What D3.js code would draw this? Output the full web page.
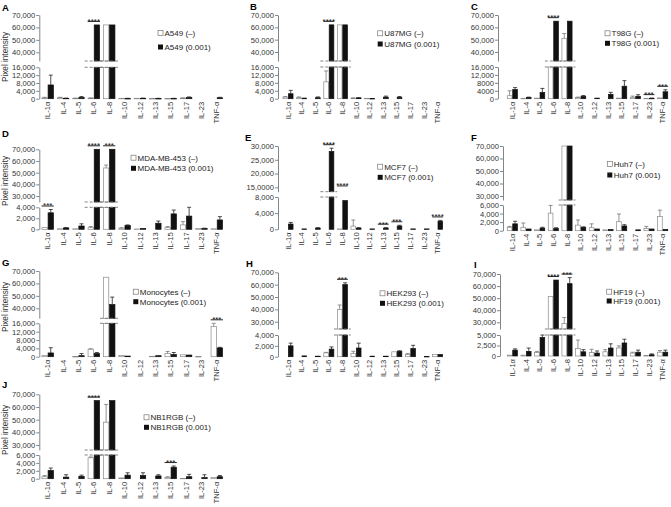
<!DOCTYPE html>
<html><head><meta charset="utf-8">
<script src="https://cdn.jsdelivr.net/npm/d3@7"></script>
<style>body{margin:0;background:#fff} svg{display:block} text{font-family:Arial,"Liberation Sans",sans-serif;fill:#222}</style>
</head><body><svg id="c" width="671" height="507"></svg>
<script>
const categories = ["IL-1α","IL-4","IL-5","IL-6","IL-8","IL-10","IL-12","IL-13","IL-15","IL-17","IL-23","TNF-α"];

// A549
const a549Ctrl    = [400, 500, 200, 300, 62000, 200, 200, 100, 100, 300, 0, 0];
const a549CtrlErr = [300, 200, 100, 100, 0, 0, 0, 0, 0, 100, 0, 0];
const a549Trt     = [7000, 200, 600, 62000, 62000, 100, 200, 100, 100, 600, 0, 500];
const a549TrtErr  = [5000, 100, 500, 0, 0, 100, 100, 100, 100, 300, 0, 200];
const a549Sig = [[3, "****"]];
// U87MG
const u87Ctrl    = [800, 500, 0, 8500, 62000, 300, 200, 0, 0, 0, 0, 0];
const u87CtrlErr = [300, 400, 0, 5500, 0, 100, 0, 0, 0, 0, 0, 0];
const u87Trt     = [2500, 200, 500, 62000, 62000, 400, 100, 800, 700, 0, 0, 0];
const u87TrtErr  = [1700, 100, 400, 0, 0, 100, 0, 500, 400, 0, 0, 0];
const u87Sig = [[3, "****"]];
// T98G
const t98Ctrl    = [1500, 200, 300, 16000, 51000, 600, 0, 0, 300, 700, 200, 400];
const t98CtrlErr = [2500, 0, 0, 0, 4000, 200, 0, 0, 0, 600, 0, 0];
const t98Trt     = [4600, 600, 3200, 65000, 65000, 1200, 300, 2200, 6300, 1200, 200, 3500];
const t98TrtErr  = [1000, 200, 2000, 0, 0, 400, 0, 1000, 2800, 800, 100, 1000];
const t98Sig = [[3, "****"], [10, "***"], [11, "***"]];
// MDA-MB-453
const mdaCtrl    = [300, 100, 100, 300, 54000, 200, 50, 0, 300, 800, 150, 100];
const mdaCtrlErr = [0, 0, 0, 200, 2500, 100, 0, 0, 200, 600, 0, 0];
const mdaTrt     = [3000, 250, 600, 70000, 70000, 700, 150, 1100, 2800, 2400, 150, 1700];
const mdaTrtErr  = [600, 50, 400, 0, 0, 100, 0, 400, 700, 1600, 50, 600];
const mdaSig = [[0, "***"], [3, "****"], [4, "***"]];
// MCF7
const mcfCtrl    = [0, 0, 0, 0, 100, 800, 0, 0, 0, 0, 0, 0];
const mcfCtrlErr = [0, 0, 0, 0, 0, 1500, 0, 0, 0, 0, 0, 0];
const mcfTrt     = [1300, 100, 300, 28000, 7100, 300, 100, 300, 800, 100, 100, 2000];
const mcfTrtErr  = [400, 0, 100, 1200, 0, 100, 0, 100, 200, 0, 0, 200];
const mcfSig = [[3, "****"], [4, "****", 15500], [7, "***"], [8, "***"], [11, "****"]];
// Huh7
const huhCtrl    = [800, 800, 200, 4100, 70000, 1300, 700, 200, 2100, 0, 500, 3300];
const huhCtrlErr = [200, 1000, 0, 1800, 0, 1200, 900, 0, 1800, 0, 500, 1500];
const huhTrt     = [1600, 400, 600, 500, 70000, 800, 400, 300, 1100, 200, 400, 300];
const huhTrtErr  = [600, 0, 200, 200, 0, 100, 0, 0, 300, 0, 0, 0];
const huhSig = [];
// Monocytes
const monoCtrl    = [500, 0, 100, 3600, 65000, 600, 0, 200, 1500, 900, 100, 14500];
const monoCtrlErr = [0, 0, 0, 200, 0, 0, 0, 0, 1000, 0, 0, 1500];
const monoTrt     = [1800, 0, 500, 1500, 43000, 300, 0, 500, 1000, 800, 0, 4200];
const monoTrtErr  = [2500, 0, 1000, 500, 6000, 0, 0, 0, 1000, 0, 0, 300];
const monoSig = [[11, "***"]];
// HEK293
const hekCtrl    = [0, 0, 0, 700, 40000, 600, 0, 0, 900, 400, 0, 400];
const hekCtrlErr = [0, 0, 0, 100, 3500, 400, 0, 0, 0, 200, 0, 0];
const hekTrt     = [2000, 150, 100, 1400, 60000, 1600, 100, 100, 1000, 1500, 50, 400];
const hekTrtErr  = [500, 0, 0, 400, 1500, 900, 0, 0, 100, 600, 0, 0];
const hekSig = [[4, "***"]];
// HF19
const hfCtrl    = [200, 200, 800, 51500, 29000, 1800, 800, 1000, 1900, 700, 100, 900];
const hfCtrlErr = [0, 0, 300, 0, 5000, 2000, 800, 500, 500, 200, 0, 400];
const hfTrt     = [1400, 1100, 4400, 65000, 62000, 1000, 700, 1900, 3100, 900, 300, 900];
const hfTrtErr  = [300, 800, 700, 0, 5000, 500, 500, 1000, 900, 500, 200, 500];
const hfSig = [[3, "****"], [4, "***"]];
// NB1RGB
const nbCtrl    = [500, 0, 0, 5300, 48000, 200, 0, 0, 300, 100, 0, 300];
const nbCtrlErr = [300, 0, 0, 200, 14000, 0, 0, 0, 200, 0, 0, 0];
const nbTrt     = [2100, 400, 600, 65000, 65000, 900, 800, 700, 2900, 500, 300, 500];
const nbTrtErr  = [600, 600, 300, 0, 0, 600, 700, 300, 300, 600, 700, 300];
const nbSig = [[3, "****"], [8, "***"]];

// tick values / labels
const up40 = [40000, 50000, 60000, 70000];
const up40Lab = ["40,000", "50,000", "60,000", "70,000"];
const up30 = [30000, 40000, 50000, 60000, 70000];
const up30Lab = ["30,000", "40,000", "50,000", "60,000", "70,000"];
const up15 = [15000, 20000, 25000, 30000];
const up15Lab = ["15,0000", "20,000", "25,000", "30,000"];
const lo16 = [0, 4000, 8000, 12000, 16000];
const lo16Lab = ["0", "4,000", "8,000", "12,000", "16,000"];
const lo16LabC = ["0", "4000", "8000", "12,000", "16,000"];
const lo4 = [0, 2000, 4000];
const lo4Lab = ["0", "2,000", "4,000"];
const lo8 = [0, 4000, 8000];
const lo8Lab = ["0", "4,000", "8,000"];
const lo6 = [0, 2000, 4000, 6000];
const lo6Lab = ["0", "2,000", "4,000", "6,000"];
const lo5 = [0, 2500, 5000];
const lo5Lab = ["0", "2,500", "5,000"];

const panels = [
 {id:"A", name:"A549", c:a549Ctrl, ce:a549CtrlErr, t:a549Trt, te:a549TrtErr, sig:a549Sig, ut:up40, ul:up40Lab, lt:lo16, ll:lo16Lab,
  L:{title:[2,11], ax:39.3, xr:[40,224.5], u:[40000,52.3,70000,15,61], l:[16000,98.7,67.3], leg:[158,33,47], ylab:57}},
 {id:"B", name:"U87MG", c:u87Ctrl, ce:u87CtrlErr, t:u87Trt, te:u87TrtErr, sig:u87Sig, ut:up40, ul:up40Lab, lt:lo16, ll:lo16Lab,
  L:{title:[250,10], ax:278, xr:[281.2,444.4], u:[40000,52,70000,15,61], l:[16000,98.7,67], leg:[377.7,33.3,44]}},
 {id:"C", name:"T98G", c:t98Ctrl, ce:t98CtrlErr, t:t98Trt, te:t98TrtErr, sig:t98Sig, ut:up40, ul:up40Lab, lt:lo16, ll:lo16LabC,
  L:{title:[471,10], ax:498, xr:[505.5,669.5], u:[40000,52,70000,15,61], l:[16000,98.7,67], leg:[605,33.3,43.3]}},
 {id:"D", name:"MDA-MB-453", c:mdaCtrl, ce:mdaCtrlErr, t:mdaTrt, te:mdaTrtErr, sig:mdaSig, ut:up30, ul:up30Lab, lt:lo4, ll:lo4Lab,
  L:{title:[2,137], ax:39.3, xr:[40,224.5], u:[30000,196,70000,149.3,202], l:[4000,229.3,207.3], leg:[131,157.7,168.3], ylab:181}},
 {id:"E", name:"MCF7", c:mcfCtrl, ce:mcfCtrlErr, t:mcfTrt, te:mcfTrtErr, sig:mcfSig, ut:up15, ul:up15Lab, lt:lo8, ll:lo8Lab,
  L:{title:[245,141], ax:278, xr:[281.2,444.4], u:[15000,187.3,30000,146,191.7], l:[8000,229.3,197], leg:[377.7,166.7,177.3]}},
 {id:"F", name:"Huh7", c:huhCtrl, ce:huhCtrlErr, t:huhTrt, te:huhTrtErr, sig:huhSig, ut:up30, ul:up30Lab, lt:lo6, ll:lo6Lab,
  L:{title:[471,141], ax:503, xr:[505.5,669.5], u:[30000,196,70000,146,200], l:[6000,230.7,205], leg:[607.3,164,175]}},
 {id:"G", name:"Monocytes", c:monoCtrl, ce:monoCtrlErr, t:monoTrt, te:monoTrtErr, sig:monoSig, ut:up40, ul:up40Lab, lt:lo16, ll:lo16Lab,
  L:{title:[2,266], ax:39.3, xr:[40,224.5], u:[40000,308.3,70000,271,318.3], l:[16000,356.7,323.3], leg:[133.3,291.7,301.7], ylab:307}},
 {id:"H", name:"HEK293", c:hekCtrl, ce:hekCtrlErr, t:hekTrt, te:hekTrtErr, sig:hekSig, ut:up30, ul:up30Lab, lt:lo4, ll:lo4Lab,
  L:{title:[246,267], ax:278, xr:[281.2,444.4], u:[30000,321.7,70000,272.3,329], l:[4000,356.7,335], leg:[380,293.3,303.3]}},
 {id:"I", name:"HF19", c:hfCtrl, ce:hfCtrlErr, t:hfTrt, te:hfTrtErr, sig:hfSig, ut:up30, ul:up30Lab, lt:lo5, ll:lo5Lab,
  L:{title:[474,268], ax:500, xr:[505.5,669.5], u:[30000,322.3,70000,274,329], l:[5000,356,335], leg:[606.7,291.7,301]}},
 {id:"J", name:"NB1RGB", c:nbCtrl, ce:nbCtrlErr, t:nbTrt, te:nbTrtErr, sig:nbSig, ut:up30, ul:up30Lab, lt:lo6, ll:lo6Lab,
  L:{title:[2,388], ax:39.3, xr:[40,224.5], u:[30000,445,70000,394.3,450], l:[6000,478.7,455], leg:[144,417.3,427.3], ylab:430}}
];

const svg = d3.select("#c");
const FS = 7.6;

panels.forEach(p => {
  const L = p.L;
  const g = svg.append("g");
  const [uv1, uy1, uv2, uy2, brk] = L.u;
  const uS = d3.scaleLinear().domain([uv1, uv2]).range([uy1, uy2]);
  const uBottom = uS.invert(brk);
  uS.domain([uBottom, uv2]).range([brk, uy2]);
  const [lmax, ly0, lyMax] = L.l;
  const lS = d3.scaleLinear().domain([0, lmax]).range([ly0, lyMax]);
  const x = d3.scaleBand().domain(categories).range(L.xr).paddingInner(0.2).paddingOuter(0.1);
  const bw = x.bandwidth() / 2;

  const yOf = v => v <= lmax ? lS(v) : (v >= uBottom ? uS(Math.min(v, uv2)) : lS(lmax));

  // title
  g.append("text").attr("x", L.title[0]).attr("y", L.title[1]).attr("font-size", 9.5).attr("font-weight", "bold").style("fill","#000").text(p.id);
  if (L.ylab) {
    g.append("text").attr("transform", `translate(5,${L.ylab}) rotate(-90)`).attr("text-anchor","middle").attr("dy","0.35em").attr("font-size", 8.2).style("fill","#333").text("Pixel intensity");
  }

  // axes
  const ua = d3.axisLeft(uS).tickValues(p.ut).tickFormat((d,i) => p.ul[i]).tickSizeInner(3).tickSizeOuter(0).tickPadding(1);
  const la = d3.axisLeft(lS).tickValues(p.lt).tickFormat((d,i) => p.ll[i]).tickSizeInner(3).tickSizeOuter(0).tickPadding(1);
  [ua, la].forEach(a => {
    const ag = g.append("g").attr("transform", `translate(${L.ax},0)`).call(a);
    ag.selectAll("path,line").attr("stroke", "#666").attr("stroke-width", 0.8);
    ag.selectAll("text").attr("font-size", FS).style("fill", "#333").attr("font-family", "Arial, 'Liberation Sans', sans-serif");
  });

  // bars
  const series = [
    {vals: p.c, errs: p.ce, off: 0, fill: "#fff", stroke: "#8a8a8a", ecol: "#777"},
    {vals: p.t, errs: p.te, off: bw, fill: "#111", stroke: "#111", ecol: "#222"}
  ];
  series.forEach(s => {
    categories.forEach((cat, i) => {
      const v = s.vals[i];
      if (v <= 0) return;
      const bx = x(cat) + s.off;
      const parts = [];
      if (v <= lmax) parts.push([lS(0), lS(v)]);
      else {
        parts.push([lS(0), lS(lmax)]);
        if (v > uBottom) parts.push([brk, uS(Math.min(v, uv2))]);
      }
      parts.forEach(([yb, yt]) => {
        g.append("rect").attr("x", bx + 0.4).attr("y", yt).attr("width", bw - 0.8).attr("height", Math.max(0.5, yb - yt))
          .attr("fill", s.fill).attr("stroke", s.stroke).attr("stroke-width", 0.7);
      });
      const e = s.errs[i];
      if (e > 0) {
        const cx = bx + bw / 2;
        const y1 = yOf(v), y2 = yOf(v + e);
        g.append("line").attr("x1", cx).attr("x2", cx).attr("y1", y1).attr("y2", y2).attr("stroke", s.ecol).attr("stroke-width", 0.8);
        g.append("line").attr("x1", cx - 2).attr("x2", cx + 2).attr("y1", y2).attr("y2", y2).attr("stroke", s.ecol).attr("stroke-width", 0.8);
      }
    });
  });

  // break dashes
  categories.forEach((cat, i) => {
    if (Math.max(p.c[i], p.t[i]) > lmax && Math.max(p.c[i], p.t[i]) > uBottom) {
      const x0 = x(cat) - 3, x1 = x(cat) + x.bandwidth() + 3;
      [brk, lS(lmax)].forEach(yy => {
        g.append("line").attr("x1", x0).attr("x2", x1).attr("y1", yy).attr("y2", yy)
          .attr("stroke", "#777").attr("stroke-width", 0.9).attr("stroke-dasharray", "3,2");
      });
    }
  });

  // x labels
  categories.forEach(cat => {
    g.append("text").attr("transform", `translate(${x(cat) + x.bandwidth()/2},${ly0 + 3}) rotate(-90)`)
      .attr("text-anchor", "end").attr("dy", "0.35em").attr("font-size", FS).style("fill","#333").text(cat);
  });

  // significance
  p.sig.forEach(sg => {
    const i = sg[0], cat = categories[i];
    let ly;
    if (sg.length > 2) ly = yOf(sg[2]);
    else {
      const top = Math.min(yOf(p.c[i] + p.ce[i]), yOf(p.t[i] + p.te[i]));
      ly = top - 3.5;
    }
    g.append("line").attr("x1", x(cat)).attr("x2", x(cat) + x.bandwidth()).attr("y1", ly).attr("y2", ly).attr("stroke", "#111").attr("stroke-width", 0.9);
    g.append("text").attr("x", x(cat) + x.bandwidth()/2).attr("y", ly + 2.4).attr("text-anchor", "middle").attr("font-size", 8).style("fill","#111").text(sg[1]);
  });

  // legend
  const [lx, r1, r2] = L.leg;
  g.append("rect").attr("x", lx).attr("y", r1 - 2.5).attr("width", 5).attr("height", 5).attr("fill", "#fff").attr("stroke", "#777").attr("stroke-width", 0.7);
  g.append("rect").attr("x", lx).attr("y", r2 - 2.5).attr("width", 5).attr("height", 5).attr("fill", "#111");
  g.append("text").attr("x", lx + 6.5).attr("y", r1).attr("dy", "0.35em").attr("font-size", 8).style("fill","#222").text(p.name + " (–)");
  g.append("text").attr("x", lx + 6.5).attr("y", r2).attr("dy", "0.35em").attr("font-size", 8).style("fill","#222").text(p.name + " (0.001)");
});
</script>
</body></html>
